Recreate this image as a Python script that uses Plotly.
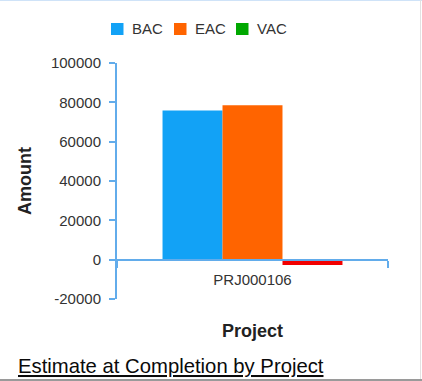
import plotly.graph_objects as go

# ---- data ----
projects = ["PRJ000106"]
bac = [75800]
eac = [78500]
vac = [-2700]
series_names = ["BAC", "EAC", "VAC"]
bar_colors = ["#12a2f6", "#ff6400", "#f20000"]
legend_colors = ["#12a2f6", "#ff6400", "#00a800"]
y_ticks = [-20000, 0, 20000, 40000, 60000, 80000, 100000]
y_tick_labels = ["-20000", "0", "20000", "40000", "60000", "80000", "100000"]

W, H = 422, 381
ML, MR, MT, MB = 117, 34, 63, 82
PW, PH = W - ML - MR, H - MT - MB

def px_x(px):
    return (px - ML) / PW

def px_y(py):
    return (H - MB - py) / PH

AXIS = "#62aceb"
FONT = "Liberation Sans, Arial, sans-serif"
TXT = "#333333"

fig = go.Figure()
for name, vals, col in zip(series_names, [bac, eac, vac], bar_colors):
    fig.add_trace(go.Bar(name=name, x=projects, y=vals, marker_color=col,
                         marker_line_width=0))

# legend drawn as swatches + text (VAC swatch is green in the original)
legend_x = [111, 174, 236]
shapes = []
annotations = []
for name, col, lx in zip(series_names, legend_colors, legend_x):
    shapes.append(dict(type="rect", xref="paper", yref="paper",
                       x0=px_x(lx), x1=px_x(lx + 12.5), y0=px_y(35), y1=px_y(23),
                       fillcolor=col, line=dict(width=0)))
    annotations.append(dict(text=name, xref="paper", yref="paper",
                            x=px_x(lx + 19), y=px_y(29), xanchor="left", yanchor="middle",
                            showarrow=False, font=dict(family=FONT, size=15, color=TXT)))

annotations.append(dict(
    text="<u>Estimate at Completion by Project</u>", xref="paper", yref="paper",
    x=px_x(16), y=px_y(366), xanchor="left", yanchor="middle", showarrow=False,
    font=dict(family=FONT, size=20.3, color="#0a0a0a"),
))
shapes += [
    dict(type="line", xref="paper", yref="paper", x0=px_x(0), x1=px_x(W), y0=px_y(0.5), y1=px_y(0.5),
         line=dict(color="#cfe3f8", width=1)),
    dict(type="line", xref="paper", yref="paper", x0=px_x(420.5), x1=px_x(420.5), y0=px_y(0), y1=px_y(H),
         line=dict(color="#e2e2e2", width=1)),
    dict(type="line", xref="paper", yref="paper", x0=px_x(0), x1=px_x(W), y0=px_y(380), y1=px_y(380),
         line=dict(color="#9a9a9a", width=2)),
]

fig.update_layout(
    width=W, height=H,
    margin=dict(l=ML, r=MR, t=MT, b=MB, pad=0),
    paper_bgcolor="white", plot_bgcolor="white",
    barmode="group", bargap=0.336, bargroupgap=0,
    font=dict(family=FONT, size=15, color=TXT),
    showlegend=False,
    xaxis=dict(
        anchor="free", position=20000 / 120000,
        showline=True, linecolor=AXIS, linewidth=2,
        ticks="outside", tickson="boundaries", ticklen=7, tickcolor=AXIS, tickwidth=2,
        ticklabelstandoff=6,
        showgrid=False, zeroline=False,
        title=dict(text="<b>Project</b>", font=dict(size=18, color="#222"), standoff=37),
        tickfont=dict(size=15, color=TXT),
    ),
    yaxis=dict(
        range=[-20000, 100000], tickmode="array", tickvals=y_ticks, ticktext=y_tick_labels,
        showline=True, linecolor=AXIS, linewidth=2,
        ticks="outside", ticklen=6, tickcolor=AXIS, tickwidth=2,
        ticklabelstandoff=5,
        showgrid=False, zeroline=False,
        title=dict(text="<b>Amount</b>", font=dict(size=18, color="#222"), standoff=15),
        tickfont=dict(size=15, color=TXT),
    ),
    annotations=annotations,
    shapes=shapes,
)

fig.write_html("out.html", config={"displayModeBar": False},
               post_script="document.body.style.margin='0';document.body.style.overflow='hidden';")
